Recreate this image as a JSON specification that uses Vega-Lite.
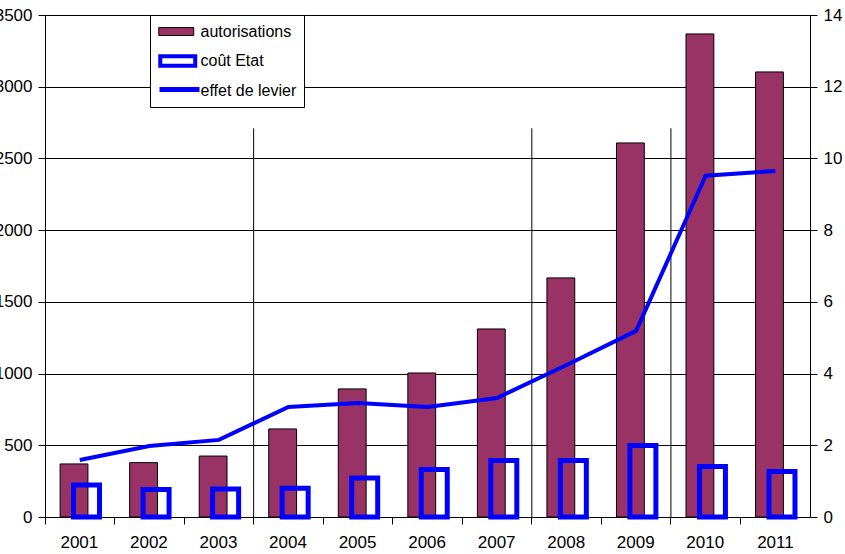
{
  "$schema": "https://vega.github.io/schema/vega-lite/v6.json",
  "width": 765,
  "height": 502,
  "autosize": "none",
  "padding": {"left": 45, "top": 15, "right": 35, "bottom": 37},
  "background": "white",
  "config": {
    "view": {"stroke": null},
    "font": "Liberation Sans",
    "axis": {
      "labelFont": "Liberation Sans",
      "labelFontSize": 17,
      "labelColor": "black",
      "tickColor": "black",
      "domainColor": "black",
      "tickSize": 7,
      "tickWidth": 1,
      "domainWidth": 1,
      "title": null
    },
    "legend": {
      "orient": "none",
      "title": null,
      "direction": "vertical",
      "labelFont": "Liberation Sans",
      "labelFontSize": 16,
      "labelColor": "black"
    }
  },
  "data": {
    "values": [
      {"year": "2001", "autorisations": 370, "cout": 223, "levier": 1.59},
      {"year": "2002", "autorisations": 379, "cout": 192, "levier": 1.98},
      {"year": "2003", "autorisations": 425, "cout": 195, "levier": 2.15},
      {"year": "2004", "autorisations": 614, "cout": 200, "levier": 3.07},
      {"year": "2005", "autorisations": 893, "cout": 272, "levier": 3.18},
      {"year": "2006", "autorisations": 1004, "cout": 331, "levier": 3.07},
      {"year": "2007", "autorisations": 1311, "cout": 394, "levier": 3.32},
      {"year": "2008", "autorisations": 1667, "cout": 394, "levier": 4.24},
      {"year": "2009", "autorisations": 2608, "cout": 499, "levier": 5.19},
      {"year": "2010", "autorisations": 3368, "cout": 352, "levier": 9.52},
      {"year": "2011", "autorisations": 3103, "cout": 317, "levier": 9.65}
    ]
  },
  "layer": [
    {
      "layer": [
        {
          "data": {"values": [
            {"year": "2004", "top": 2710},
            {"year": "2008", "top": 2710},
            {"year": "2010", "top": 2710}
          ]},
          "mark": {"type": "rule", "strokeWidth": 1},
          "encoding": {
            "x": {"field": "year", "type": "ordinal", "bandPosition": 0,
                  "scale": {"domain": ["2001","2002","2003","2004","2005","2006","2007","2008","2009","2010","2011"], "paddingInner": 0, "paddingOuter": 0}},
            "y": {"field": "top", "type": "quantitative"},
            "y2": {"datum": 0},
            "color": {
              "datum": "autorisations",
              "type": "nominal",
              "scale": {"domain": ["autorisations", "coût Etat", "effet de levier"], "range": ["black", "black", "black"]},
              "legend": {
                "legendX": 105,
                "legendY": 0,
                "strokeColor": "black",
                "fillColor": "white",
                "padding": 7,
                "symbolType": "square",
                "symbolSize": 306,
                "symbolOpacity": 0,
                "symbolOffset": 9.75,
                "labelOffset": 14.75,
                "rowPadding": 10.5,
                "zindex": 1
              }
            }
          }
        },
        {
          "mark": {"type": "bar", "stroke": "black", "strokeWidth": 1, "width": {"band": 0.4}, "xOffset": -5.75},
          "encoding": {
            "x": {"field": "year", "type": "ordinal",
                  "scale": {"domain": ["2001","2002","2003","2004","2005","2006","2007","2008","2009","2010","2011"], "paddingInner": 0, "paddingOuter": 0},
                  "axis": {"bandPosition": 0, "labelOffset": 18.5, "labelAngle": 0, "grid": false, "labelPadding": 18}},
            "y": {"field": "autorisations", "type": "quantitative",
                  "scale": {"domain": [0, 3500], "nice": false},
                  "axis": {"values": [0, 500, 1000, 1500, 2000, 2500, 3000, 3500], "format": "d", "grid": true, "gridColor": "black", "gridOpacity": 1, "gridWidth": 1, "labelPadding": 6}},
            "fill": {
              "datum": "autorisations",
              "type": "nominal",
              "scale": {"domain": ["autorisations"], "range": ["#993366"]},
              "legend": {
                "legendX": 121.75,
                "legendY": 7,
                "padding": 0,
                "symbolType": "M-2,-0.45H2V0.45H-2Z",
                "symbolSize": 306,
                "symbolStrokeColor": "black",
                "symbolStrokeWidth": 1,
                "symbolOffset": 0,
                "labelExpr": "''",
                "zindex": 2
              }
            }
          }
        },
        {
          "mark": {"type": "bar", "filled": false, "strokeWidth": 5, "width": {"band": 0.374}, "xOffset": 6.75},
          "encoding": {
            "x": {"field": "year", "type": "ordinal"},
            "y": {"field": "cout", "type": "quantitative"},
            "stroke": {
              "datum": "coût Etat",
              "type": "nominal",
              "scale": {"domain": ["coût Etat"], "range": ["#0000ff"]},
              "legend": {
                "legendX": 121.75,
                "legendY": 35,
                "padding": 0,
                "symbolType": "M-2,-0.55H2V0.55H-2Z",
                "symbolSize": 306,
                "symbolFillColor": "white",
                "symbolStrokeWidth": 4,
                "symbolOffset": 0,
                "labelExpr": "''",
                "zindex": 2
              }
            }
          }
        }
      ]
    },
    {
      "mark": {"type": "line", "strokeWidth": 4, "interpolate": "linear", "color": "#0000ff"},
      "encoding": {
        "x": {"field": "year", "type": "ordinal"},
        "y": {"field": "levier", "type": "quantitative",
              "scale": {"domain": [0, 14], "nice": false},
              "axis": {"orient": "right", "values": [0, 2, 4, 6, 8, 10, 12, 14], "grid": false, "labelPadding": 6}},
        "opacity": {
          "datum": "effet de levier",
          "type": "nominal",
          "scale": {"domain": ["effet de levier"], "range": [1]},
          "legend": {
            "legendX": 112,
            "legendY": 52,
            "padding": 0,
            "symbolType": "stroke",
            "symbolSize": 1600,
            "symbolStrokeColor": "#0000ff",
            "symbolStrokeWidth": 5,
            "symbolOffset": 0,
            "labelExpr": "''",
            "zindex": 2
          }
        }
      }
    }
  ],
  "resolve": {"scale": {"y": "independent"}}
}
